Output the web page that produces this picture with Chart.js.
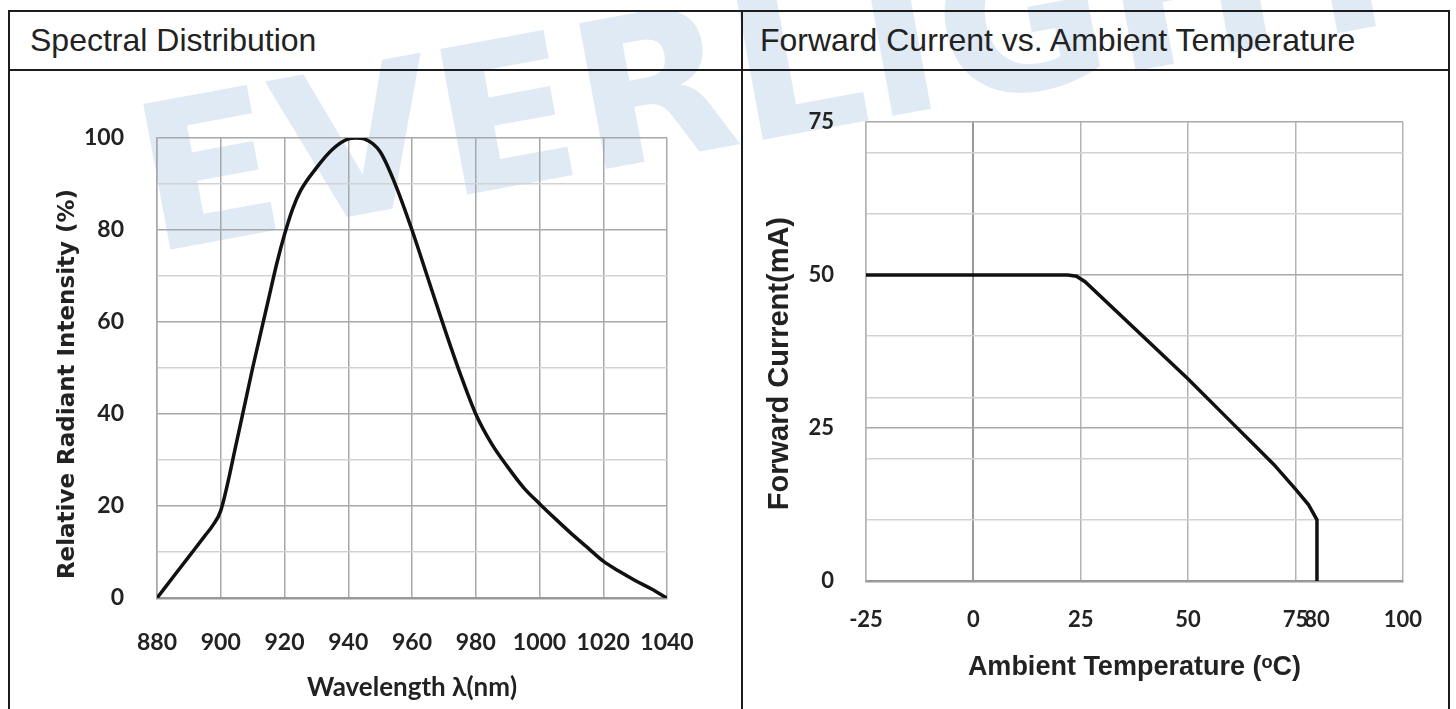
<!DOCTYPE html>
<html>
<head>
<meta charset="utf-8">
<script src="https://cdn.jsdelivr.net/npm/chart.js@4.4.0/dist/chart.umd.min.js"></script>
<style>
  html, body { margin: 0; padding: 0; background: #fff; }
  body { width: 1456px; height: 709px; position: relative; overflow: hidden; font-family: "Liberation Sans", Arial, sans-serif; }
  #marca { position: absolute; left: 152px; top: 82px; font: bold 203px "DejaVu Sans", sans-serif; line-height: 1; color: #dfeaf5; transform-origin: 0 172px; transform: rotate(-10.5deg) scaleX(1.02); white-space: nowrap; z-index: 0; }
  .linea { position: absolute; background: #1c1c1c; z-index: 2; }
  .cab { position: absolute; top: 12px; height: 57px; line-height: 57px; font-size: 32px; color: #222; z-index: 2; }
  canvas { position: absolute; z-index: 1; }
</style>
</head>
<body>
<div id="marca">EVERLIGHT</div>

<div class="linea" style="left:8px;top:10px;width:1442px;height:2px"></div>
<div class="linea" style="left:8px;top:69px;width:1442px;height:2px"></div>
<div class="linea" style="left:8px;top:10px;width:2px;height:700px"></div>
<div class="linea" style="left:741px;top:10px;width:2px;height:700px"></div>
<div class="linea" style="left:1448px;top:10px;width:2px;height:700px"></div>

<div class="cab" style="left:30px">Spectral Distribution</div>
<div class="cab" style="left:760px">Forward Current vs. Ambient Temperature</div>

<canvas id="espectro" width="731" height="638" style="left:10px;top:71px"></canvas>
<canvas id="corriente" width="705" height="638" style="left:743px;top:71px"></canvas>

<script>
// distribucion espectral
const longitudOnda = [880, 885, 890, 895, 897.5, 900, 905, 910, 915, 917.5, 920, 922.5, 925, 930, 935, 940, 942.5, 945,
  950, 955, 960, 965, 970, 975, 980, 985, 990, 995, 1000, 1005, 1010, 1015, 1020, 1025, 1030, 1035, 1040];
const intensidad = [0, 4.5, 9, 13.5, 15.8, 19, 34, 50, 65, 72.5, 79, 84.5, 88.5, 93.5, 97.5, 99.8, 100, 99.8,
  97, 89.5, 80, 69.5, 59, 49, 40, 33.5, 28.5, 24, 20.5, 17.2, 14, 11, 8, 5.8, 3.8, 2, 0];
const ticksX1 = [880, 900, 920, 940, 960, 980, 1000, 1020, 1040];

// corriente directa vs temperatura
const temperatura = [-25, 22, 24, 26, 50, 60, 65, 70, 75, 78, 80, 80];
const corrienteMA = [50, 50, 49.8, 48.9, 33, 26, 22.5, 19, 15, 12.5, 10, 0];
const ticksX2 = [-25, 0, 25, 50, 75, 80, 100];
const ticksY2 = [0, 10, 20, 25, 30, 40, 50, 60, 70, 75];
const etiquetasY2 = [0, 25, 50, 75];

const fuenteNum = "Lato, 'Open Sans', sans-serif";
const fuenteArial = "'Liberation Sans', Arial, sans-serif";

new Chart(document.getElementById("espectro"), {
  type: 'line',
  data: {
    datasets: [{
      data: longitudOnda.map((x, i) => ({ x: x, y: intensidad[i] })),
      borderColor: '#111',
      borderWidth: 3.5,
      pointRadius: 0,
      cubicInterpolationMode: 'monotone',
      fill: false
    }]
  },
  options: {
    responsive: false,
    animation: false,
    layout: { padding: { top: 67, right: 74, left: 0, bottom: 0 } },
    plugins: { legend: { display: false }, tooltip: { enabled: false } },
    scales: {
      x: {
        type: 'linear', min: 880, max: 1040,
        afterBuildTicks: s => { s.ticks = ticksX1.map(v => ({ value: v })); },
        afterFit: s => { s.height = 111; },
        grid: { color: '#a8a8a8', lineWidth: 1.5, drawTicks: false },
        border: { color: '#999', width: 2.5 },
        ticks: {
          padding: 31, autoSkip: false, maxRotation: 0, color: '#222',
          font: { family: fuenteNum, size: 23, weight: 'bold' },
          callback: v => String(v)
        },
        title: { display: true, text: 'Wavelength λ(nm)', color: '#222', padding: { top: 0, bottom: 6 }, font: { family: fuenteNum, size: 26, weight: 'bold' } }
      },
      y: {
        min: 0, max: 100,
        ticks: {
          stepSize: 10, padding: 33, color: '#222',
          font: { family: fuenteNum, size: 23, weight: 'bold' },
          callback: v => (v % 20 === 0 ? String(v) : '')
        },
        afterFit: s => { s.width = 147; },
        grid: {
          drawTicks: false, lineWidth: 1.5,
          color: c => (c.tick.value % 20 === 0 ? '#a8a8a8' : '#d2d2d2')
        },
        border: { color: '#a8a8a8', width: 1.5 },
        title: { display: true, text: 'Relative Radiant Intensity (%)\u00a0\u00a0\u00a0\u00a0', color: '#222', padding: { top: 44, bottom: 0 }, font: { family: "'DejaVu Sans', sans-serif", size: 23, weight: 'bold' } }
      }
    }
  }
});

new Chart(document.getElementById("corriente"), {
  type: 'line',
  data: {
    datasets: [{
      data: temperatura.map((x, i) => ({ x: x, y: corrienteMA[i] })),
      borderColor: '#111',
      borderWidth: 3.5,
      pointRadius: 0,
      tension: 0,
      fill: false
    }]
  },
  options: {
    responsive: false,
    animation: false,
    layout: { padding: { top: 51, right: 39, left: 0, bottom: 0 } },
    plugins: { legend: { display: false }, tooltip: { enabled: false } },
    scales: {
      x: {
        type: 'linear', min: -25, max: 100,
        afterBuildTicks: s => { s.ticks = ticksX2.map(v => ({ value: v })); },
        afterFit: s => { s.height = 128; },
        grid: {
          drawTicks: false,
          lineWidth: c => (c.tick.value === 0 ? 2 : 1.5),
          color: c => (c.tick.value === 80 ? 'rgba(0,0,0,0)' : (c.tick.value === 0 ? '#9a9a9a' : '#b4b4b4'))
        },
        border: { color: '#999', width: 2.5 },
        ticks: {
          padding: 26, autoSkip: false, maxRotation: 0, color: '#222',
          font: { family: fuenteNum, size: 22, weight: 'bold' },
          callback: v => String(v)
        },
        title: { display: true, text: 'Ambient Temperature (ᵒC)', color: '#222', padding: { top: 0, bottom: 25 }, font: { family: fuenteArial, size: 27, weight: 'bold' } }
      },
      y: {
        min: 0, max: 75,
        afterBuildTicks: s => { s.ticks = ticksY2.map(v => ({ value: v })); },
        afterFit: s => { s.width = 123; },
        ticks: {
          padding: 32, color: '#222',
          font: { family: fuenteNum, size: 22, weight: 'bold' },
          callback: v => (etiquetasY2.includes(v) ? String(v) : '')
        },
        grid: {
          drawTicks: false, lineWidth: 1.5,
          color: c => (etiquetasY2.includes(c.tick.value) ? '#a8a8a8' : '#d2d2d2')
        },
        border: { color: '#b4b4b4', width: 1.5 },
        title: { display: true, text: 'Forward Current(mA)\u00a0\u00a0\u00a0', color: '#222', padding: { top: 20, bottom: 0 }, font: { family: fuenteArial, size: 29, weight: 'bold' } }
      }
    }
  }
});
</script>
</body>
</html>
